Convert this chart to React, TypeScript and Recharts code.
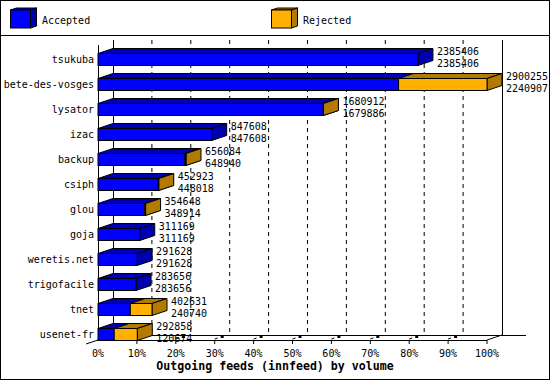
import { BarChart, Bar, XAxis, YAxis, CartesianGrid, LabelList } from 'recharts';

const hosts = [
  'tsukuba',
  'bete-des-vosges',
  'lysator',
  'izac',
  'backup',
  'csiph',
  'glou',
  'goja',
  'weretis.net',
  'trigofacile',
  'tnet',
  'usenet-fr',
];
const offered = [
  2385406, 2900255, 1680912, 847608, 656084, 452923, 354648, 311169, 291628, 283656, 402631, 292858,
];
const accepted = [
  2385406, 2240907, 1679886, 847608, 648940, 448018, 348914, 311169, 291628, 283656, 240740, 120674,
];
const percentTicks = [0, 10, 20, 30, 40, 50, 60, 70, 80, 90, 100];

const maxVolume = Math.max(...offered);
const data = hosts.map((host, i) => ({
  host,
  offered: offered[i],
  accepted: accepted[i],
  acceptedPct: (accepted[i] / maxVolume) * 100,
  rejectedPct: ((offered[i] - accepted[i]) / maxVolume) * 100,
}));

const W = 550;
const H = 380;
const DX = 15; // 3d depth
const DY = 5;
const X0 = 98; // 0% on the front plane
const X100 = 487; // 100% on the front plane
const WALL_TOP = 40;
const FLOOR = 340;
const MONO = '"DejaVu Sans Mono", "Liberation Mono", monospace';

const BLUE = '#0000ff';
const BLUE_DARK = '#0000b0';
const ORANGE = '#ffb000';
const ORANGE_DARK = '#b27b00';

function Bar3D(props: any) {
  const { x, y, width, height, front, dark } = props;
  if (!(width > 0)) return null;
  const x2 = x + width;
  return (
    <g stroke="#000" strokeWidth={1}>
      <polygon points={`${x},${y} ${x + DX},${y - DY} ${x2 + DX},${y - DY} ${x2},${y}`} fill={dark} />
      <polygon
        points={`${x2},${y} ${x2 + DX},${y - DY} ${x2 + DX},${y + height - DY} ${x2},${y + height}`}
        fill={dark}
      />
      <rect x={x} y={y} width={width} height={height} fill={front} />
    </g>
  );
}

function VolumeLabel(props: any) {
  const { x, y, width, height, index } = props;
  const d = data[index];
  if (!d) return null;
  const lx = x + width + DX + 4;
  const cy = y + height / 2;
  return (
    <g fontFamily={MONO} fontSize={10} fill="#000">
      <text x={lx} y={cy - 5}>{d.offered}</text>
      <text x={lx} y={cy + 7}>{d.accepted}</text>
    </g>
  );
}

function PercentTick(props: any) {
  const { x, payload } = props;
  const v = payload.value;
  return (
    <g>
      {v === 0 ? null : (
        <line x1={x} y1={FLOOR} x2={x} y2={FLOOR + 4} stroke="#000" />
      )}
      {v > 10 && v < 100 ? (
        <g>
          <line x1={x} y1={FLOOR - 1} x2={x + 3} y2={FLOOR - 2} stroke="#000" />
          <rect x={x + 6} y={FLOOR - 5} width={3} height={3} fill="#000" />
        </g>
      ) : null}
      <text x={x} y={357} textAnchor="middle" fontFamily={MONO} fontSize={10} fill="#000">
        {v}%
      </text>
    </g>
  );
}

function GridLine(p: any) {
  const { x1 } = p;
  if (Math.abs(x1 - X0) < 1 || Math.abs(x1 - X100) < 1) return <g />;
  return (
    <line
      x1={x1 + DX}
      y1={WALL_TOP}
      x2={x1 + DX}
      y2={FLOOR - DY}
      stroke="#000"
      strokeDasharray="4 4"
    />
  );
}

function LegendCube({ x, front, dark }: { x: number; front: string; dark: string }) {
  return (
    <g stroke="#000" strokeWidth={1}>
      <polygon points={`${x},10 ${x + 6},8 ${x + 26},8 ${x + 20},10`} fill={dark} />
      <polygon points={`${x + 20},10 ${x + 26},8 ${x + 26},26 ${x + 20},28`} fill={dark} />
      <rect x={x} y={10} width={20} height={18} fill={front} />
    </g>
  );
}

function Frame() {
  return (
    <svg width={W} height={H} style={{ position: 'absolute', left: 0, top: 0 }}>
      <rect x={0.5} y={0.5} width={W - 1} height={H - 1} fill="#fff" stroke="#000" />
      <line x1={0} y1={35.5} x2={W} y2={35.5} stroke="#000" />
      <LegendCube x={10.5} front={BLUE} dark={BLUE_DARK} />
      <text x={42} y={24} fontFamily={MONO} fontSize={10} fill="#000">Accepted</text>
      <LegendCube x={271.5} front={ORANGE} dark={ORANGE_DARK} />
      <text x={303} y={24} fontFamily={MONO} fontSize={10} fill="#000">Rejected</text>

      <g stroke="#000" strokeWidth={1}>
        <line x1={X0 + DX + 0.5} y1={WALL_TOP} x2={X0 + DX + 0.5} y2={FLOOR - DY} />
        <line x1={X100 + DX + 0.5} y1={WALL_TOP} x2={X100 + DX + 0.5} y2={FLOOR - DY} />
        <line x1={X0 + 0.5} y1={45} x2={X0 + 0.5} y2={FLOOR} />
        <line x1={X0 + DX} y1={FLOOR - DY + 0.5} x2={526} y2={FLOOR - DY + 0.5} />
        <line x1={X0} y1={FLOOR + 0.5} x2={X100} y2={FLOOR + 0.5} />
        <line x1={X100} y1={FLOOR} x2={X100 + DX} y2={FLOOR - DY} />
        <line x1={X0 + DX} y1={FLOOR - DY} x2={86} y2={FLOOR + 4} />
      </g>
      <text
        x={275}
        y={370}
        textAnchor="middle"
        fontFamily={MONO}
        fontWeight="bold"
        fontSize={11.6}
        fill="#000"
      >
        Outgoing feeds (innfeed) by volume
      </text>
    </svg>
  );
}

export default function App() {
  return (
    <div style={{ position: 'absolute', left: 0, top: 0, width: W, height: H }}>
      <Frame />
      <div style={{ position: 'absolute', left: 0, top: 0 }}>
        <BarChart
          width={W}
          height={H}
          data={data}
          layout="vertical"
          margin={{ top: 46.5, right: W - X100, bottom: 3.5, left: 0 }}
        >
          <CartesianGrid horizontal={false} vertical={GridLine} />
          <XAxis
            type="number"
            domain={[0, 100]}
            ticks={percentTicks}
            interval={0}
            axisLine={false}
            tickLine={false}
            height={30}
            tick={PercentTick}
          />
          <YAxis
            type="category"
            dataKey="host"
            width={X0}
            interval={0}
            axisLine={false}
            tickLine={false}
            tickSize={0}
            tickMargin={4}
            tick={{ fill: '#000', fontSize: 10, fontFamily: MONO }}
          />
          <Bar
            dataKey="acceptedPct"
            stackId="vol"
            barSize={12}
            isAnimationActive={false}
            shape={(p: any) => <Bar3D {...p} front={BLUE} dark={BLUE_DARK} />}
          />
          <Bar
            dataKey="rejectedPct"
            stackId="vol"
            barSize={12}
            isAnimationActive={false}
            shape={(p: any) => <Bar3D {...p} front={ORANGE} dark={ORANGE_DARK} />}
          >
            <LabelList dataKey="offered" content={VolumeLabel} />
          </Bar>
        </BarChart>
      </div>
    </div>
  );
}
